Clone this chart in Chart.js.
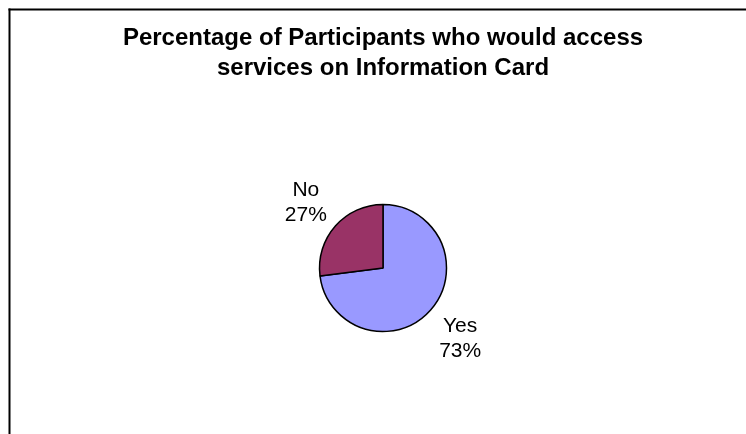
<!DOCTYPE html>
<html>
<head>
<meta charset="utf-8">
<title>Information Card access</title>
<script src="https://cdn.jsdelivr.net/npm/chart.js@4/dist/chart.umd.min.js"></script>
<style>
  html, body { margin: 0; padding: 0; background: #fff; }
  #wrap { position: relative; width: 746px; height: 434px; }
</style>
</head>
<body>
<div id="wrap"><canvas id="access_chart" width="746" height="434"></canvas></div>
<script>
// answers to "would you access services on the Information Card"
const answers = ['Yes', 'No']
const shares = [73, 27]
const slice_colours = ['#9999FF', '#993366']
const title_lines = ['Percentage of Participants who would access', 'services on Information Card']

const FONT = '"Liberation Sans", Arial, Helvetica, sans-serif'

// frame line along the top and left of the chart
const frame = {
    id: 'frame',
    beforeDraw(chart) {
        const ctx = chart.ctx
        ctx.save()
        ctx.fillStyle = '#000'
        ctx.fillRect(8.5, 8.5, chart.width, 2)
        ctx.fillRect(8.5, 8.5, 2, chart.height)
        ctx.restore()
    }
}

// category name and percentage placed outside each slice
const outside_labels = {
    id: 'outside_labels',
    afterDatasetsDraw(chart) {
        const ctx = chart.ctx
        const meta = chart.getDatasetMeta(0)
        const values = chart.data.datasets[0].data
        const total = values.reduce((a, b) => a + b, 0)
        ctx.save()
        ctx.font = '21px ' + FONT
        ctx.fillStyle = '#000'
        ctx.textAlign = 'center'
        ctx.textBaseline = 'middle'
        meta.data.forEach((arc, i) => {
            const p = arc.getProps(['x', 'y', 'startAngle', 'endAngle', 'outerRadius'], true)
            const mid = (p.startAngle + p.endAngle) / 2
            const r = p.outerRadius * 1.62
            const cx = p.x + Math.cos(mid) * r
            const cy = p.y + Math.sin(mid) * r + 3
            ctx.fillText(chart.data.labels[i], cx, cy - 12.5)
            ctx.fillText(Math.round(values[i] / total * 100) + '%', cx, cy + 12.5)
        })
        ctx.restore()
    }
}

const canvas = document.getElementById('access_chart')

new Chart(canvas, {
    type: 'pie',
    data: {
        labels: answers,
        datasets: [{
            data: shares,
            backgroundColor: slice_colours,
            borderColor: '#000',
            borderWidth: 1.5,
            radius: 63.5
        }]
    },
    options: {
        responsive: false,
        animation: false,
        layout: { padding: { left: 20, right: 0, top: 0, bottom: 0 } },
        plugins: {
            legend: { display: false },
            tooltip: { enabled: false },
            title: {
                display: true,
                text: title_lines,
                color: '#000',
                font: { family: FONT, size: 24, weight: 'bold', lineHeight: 1.25 },
                padding: { top: 23.5, bottom: 18.5 }
            }
        }
    },
    plugins: [frame, outside_labels]
})
</script>
</body>
</html>
